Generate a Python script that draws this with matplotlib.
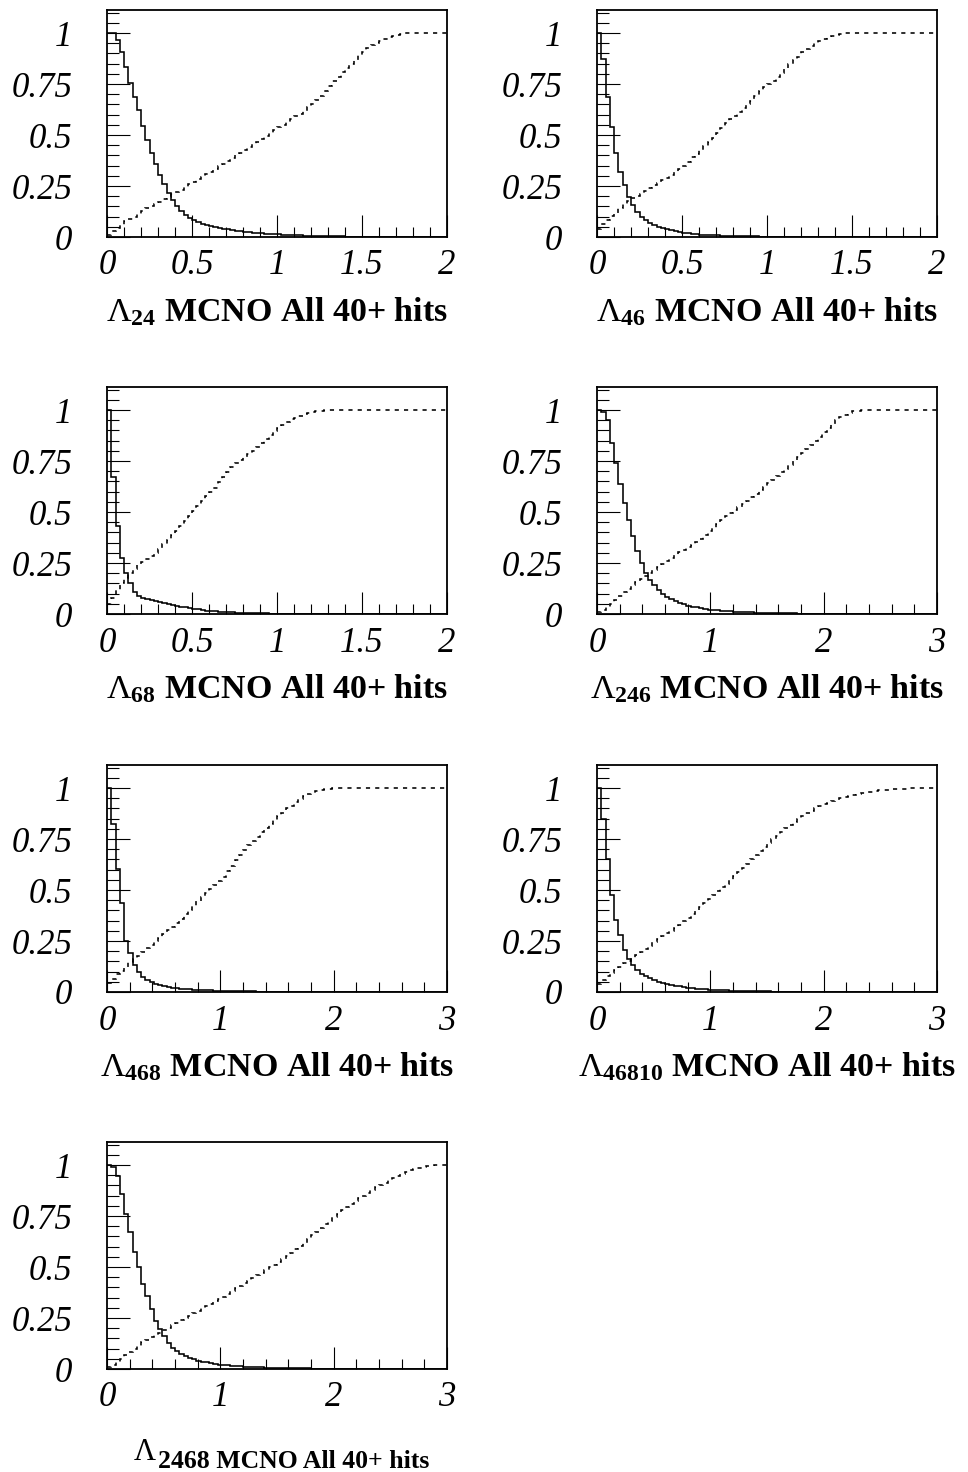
import numpy as np
import matplotlib
matplotlib.use('Agg')
import matplotlib.pyplot as plt
from matplotlib.ticker import MultipleLocator

plt.rcParams['font.family'] = ['Liberation Serif', 'DejaVu Serif']
plt.rcParams['mathtext.fontset'] = 'custom'
plt.rcParams['mathtext.rm'] = 'Liberation Serif'
plt.rcParams['mathtext.bf'] = 'Liberation Serif:bold'
plt.rcParams['mathtext.it'] = 'Liberation Serif:italic'

#----- histogram contents, 80 bins each -----
# solid: fraction above cut, dashed: cumulative fraction
surv_24 = [
    1.000, 1.000, 0.966, 0.908, 0.835, 0.756, 0.688, 0.623, 0.544, 0.475,
    0.410, 0.358, 0.304, 0.258, 0.214, 0.181, 0.152, 0.127, 0.108, 0.092,
    0.082, 0.073, 0.066, 0.060, 0.054, 0.049, 0.045, 0.041, 0.037, 0.034,
    0.031, 0.028, 0.026, 0.024, 0.022, 0.020, 0.018, 0.017, 0.016, 0.015,
    0.013, 0.012, 0.011, 0.010, 0.009, 0.008, 0.007, 0.006, 0.006, 0.005,
    0.005, 0.004, 0.004, 0.003, 0.003, 0.003, 0.002, 0.002, 0.002, 0.001,
    0.001, 0.001] + [0.0] * 18
cum_24 = [
    0.010, 0.030, 0.045, 0.060, 0.080, 0.090, 0.100, 0.115, 0.128, 0.140,
    0.150, 0.160, 0.172, 0.185, 0.197, 0.210, 0.222, 0.232, 0.245, 0.258,
    0.270, 0.282, 0.295, 0.308, 0.320, 0.333, 0.347, 0.360, 0.375, 0.388,
    0.400, 0.412, 0.425, 0.440, 0.455, 0.468, 0.480, 0.495, 0.510, 0.525,
    0.538, 0.550, 0.565, 0.580, 0.592, 0.605, 0.617, 0.635, 0.652, 0.670,
    0.690, 0.715, 0.740, 0.765, 0.785, 0.808, 0.830, 0.850, 0.870, 0.890,
    0.905, 0.925, 0.940, 0.952, 0.962, 0.972, 0.980, 0.987, 0.992, 0.996,
    0.998, 0.999] + [1.0] * 8

surv_46 = [
    1.000, 0.871, 0.688, 0.541, 0.410, 0.317, 0.255, 0.198, 0.157, 0.124,
    0.100, 0.083, 0.070, 0.059, 0.050, 0.043, 0.037, 0.032, 0.028, 0.024,
    0.021, 0.018, 0.016, 0.014, 0.012, 0.011, 0.010, 0.009, 0.008, 0.007,
    0.006, 0.005, 0.005, 0.004, 0.004, 0.003, 0.003, 0.003, 0.002, 0.002,
    0.002, 0.001, 0.001, 0.001, 0.001, 0.001, 0.001] + [0.0] * 33
cum_46 = [
    0.040, 0.065, 0.085, 0.105, 0.120, 0.140, 0.160, 0.175, 0.190, 0.200,
    0.212, 0.226, 0.240, 0.255, 0.267, 0.280, 0.290, 0.303, 0.318, 0.333,
    0.350, 0.368, 0.390, 0.408, 0.425, 0.445, 0.465, 0.487, 0.510, 0.535,
    0.560, 0.578, 0.595, 0.613, 0.632, 0.650, 0.668, 0.690, 0.715, 0.735,
    0.750, 0.765, 0.785, 0.805, 0.828, 0.850, 0.868, 0.885, 0.905, 0.920,
    0.935, 0.950, 0.962, 0.972, 0.980, 0.987, 0.992, 0.995, 0.998, 0.999] + [1.0] * 20

surv_68 = [
    1.000, 0.672, 0.430, 0.274, 0.200, 0.150, 0.110, 0.090, 0.080, 0.073,
    0.067, 0.062, 0.057, 0.052, 0.048, 0.044, 0.040, 0.036, 0.032, 0.029,
    0.026, 0.023, 0.020, 0.017, 0.015, 0.013, 0.011, 0.010, 0.009, 0.008,
    0.007, 0.006, 0.005, 0.005, 0.004, 0.004, 0.003, 0.003, 0.002, 0.002,
    0.002, 0.002, 0.001, 0.001, 0.001, 0.001, 0.001] + [0.0] * 33
cum_68 = [
    0.050, 0.080, 0.120, 0.150, 0.175, 0.200, 0.220, 0.240, 0.255, 0.270,
    0.285, 0.300, 0.320, 0.345, 0.365, 0.385, 0.405, 0.430, 0.455, 0.480,
    0.505, 0.530, 0.555, 0.578, 0.600, 0.620, 0.645, 0.670, 0.695, 0.720,
    0.740, 0.755, 0.770, 0.785, 0.800, 0.820, 0.840, 0.860, 0.880, 0.895,
    0.910, 0.925, 0.940, 0.955, 0.963, 0.972, 0.980, 0.986, 0.990, 0.994,
    0.997, 0.999] + [1.0] * 28

surv_246 = [
    1.000, 0.990, 0.952, 0.840, 0.742, 0.635, 0.545, 0.460, 0.380, 0.307,
    0.250, 0.200, 0.167, 0.143, 0.120, 0.100, 0.085, 0.072, 0.062, 0.054,
    0.047, 0.041, 0.036, 0.032, 0.028, 0.025, 0.022, 0.020, 0.018, 0.016,
    0.014, 0.013, 0.012, 0.011, 0.010, 0.009, 0.008, 0.007, 0.007, 0.006,
    0.005, 0.005, 0.004, 0.004, 0.003, 0.003, 0.003, 0.002, 0.002, 0.002,
    0.002, 0.001, 0.001, 0.001, 0.001, 0.001, 0.001, 0.001, 0.001] + [0.0] * 21
cum_246 = [
    0.010, 0.020, 0.035, 0.050, 0.070, 0.090, 0.110, 0.125, 0.140, 0.155,
    0.170, 0.185, 0.200, 0.215, 0.230, 0.245, 0.260, 0.275, 0.290, 0.302,
    0.315, 0.328, 0.340, 0.355, 0.370, 0.388, 0.405, 0.420, 0.440, 0.460,
    0.480, 0.497, 0.510, 0.525, 0.540, 0.555, 0.572, 0.590, 0.608, 0.625,
    0.640, 0.655, 0.675, 0.695, 0.712, 0.730, 0.750, 0.770, 0.790, 0.810,
    0.830, 0.850, 0.870, 0.890, 0.910, 0.930, 0.950, 0.965, 0.978, 0.987,
    0.993, 0.997, 0.999] + [1.0] * 17

surv_468 = [
    1.000, 0.823, 0.604, 0.437, 0.251, 0.190, 0.133, 0.100, 0.075, 0.059,
    0.048, 0.040, 0.034, 0.029, 0.025, 0.022, 0.019, 0.017, 0.015, 0.013,
    0.012, 0.011, 0.010, 0.009, 0.008, 0.007, 0.006, 0.006, 0.005, 0.005,
    0.004, 0.004, 0.003, 0.003, 0.003, 0.002, 0.002, 0.002, 0.002, 0.001,
    0.001, 0.001, 0.001, 0.001] + [0.0] * 36
cum_468 = [
    0.045, 0.065, 0.090, 0.105, 0.125, 0.145, 0.160, 0.175, 0.195, 0.215,
    0.232, 0.250, 0.265, 0.285, 0.302, 0.320, 0.340, 0.360, 0.380, 0.400,
    0.420, 0.445, 0.465, 0.485, 0.505, 0.525, 0.545, 0.565, 0.595, 0.620,
    0.645, 0.670, 0.695, 0.720, 0.740, 0.760, 0.785, 0.805, 0.825, 0.845,
    0.865, 0.880, 0.900, 0.913, 0.930, 0.945, 0.960, 0.970, 0.978, 0.985,
    0.990, 0.994, 0.997, 0.999] + [1.0] * 26

surv_46810 = [
    1.000, 0.847, 0.650, 0.478, 0.355, 0.280, 0.207, 0.161, 0.130, 0.110,
    0.090, 0.079, 0.067, 0.058, 0.050, 0.044, 0.039, 0.034, 0.030, 0.027,
    0.024, 0.021, 0.019, 0.017, 0.015, 0.013, 0.012, 0.011, 0.010, 0.009,
    0.008, 0.007, 0.006, 0.006, 0.005, 0.005, 0.004, 0.004, 0.003, 0.003,
    0.003, 0.002, 0.002, 0.002, 0.002, 0.001, 0.001, 0.001, 0.001, 0.001,
    0.001, 0.001] + [0.0] * 28
cum_46810 = [
    0.040, 0.060, 0.080, 0.095, 0.110, 0.125, 0.140, 0.152, 0.165, 0.180,
    0.195, 0.210, 0.225, 0.245, 0.260, 0.273, 0.287, 0.300, 0.315, 0.330,
    0.347, 0.363, 0.380, 0.398, 0.415, 0.435, 0.455, 0.475, 0.495, 0.513,
    0.530, 0.550, 0.570, 0.590, 0.610, 0.630, 0.650, 0.672, 0.690, 0.710,
    0.730, 0.748, 0.765, 0.785, 0.803, 0.820, 0.835, 0.850, 0.863, 0.876,
    0.888, 0.900, 0.910, 0.920, 0.928, 0.936, 0.943, 0.950, 0.956, 0.962,
    0.967, 0.972, 0.976, 0.980, 0.983, 0.986, 0.988, 0.990, 0.992, 0.994,
    0.995, 0.996, 0.997, 0.998, 0.999, 0.999] + [1.0] * 4

surv_2468 = [
    1.000, 0.990, 0.944, 0.858, 0.759, 0.670, 0.574, 0.500, 0.417, 0.360,
    0.294, 0.236, 0.195, 0.162, 0.129, 0.104, 0.087, 0.074, 0.063, 0.054,
    0.047, 0.041, 0.036, 0.032, 0.028, 0.025, 0.022, 0.020, 0.018, 0.016,
    0.014, 0.013, 0.012, 0.011, 0.010, 0.009, 0.008, 0.007, 0.007, 0.006,
    0.005, 0.005, 0.004, 0.004, 0.004, 0.003, 0.003, 0.003, 0.002, 0.002,
    0.002, 0.002, 0.002, 0.001, 0.001, 0.001, 0.001, 0.001, 0.001, 0.001,
    0.001, 0.001, 0.001, 0.001, 0.001, 0.001, 0.001, 0.001] + [0.0] * 12
cum_2468 = [
    0.010, 0.020, 0.035, 0.050, 0.070, 0.085, 0.100, 0.115, 0.130, 0.142,
    0.155, 0.167, 0.178, 0.190, 0.202, 0.214, 0.226, 0.238, 0.250, 0.262,
    0.274, 0.286, 0.297, 0.308, 0.320, 0.332, 0.344, 0.355, 0.366, 0.380,
    0.395, 0.408, 0.420, 0.433, 0.447, 0.460, 0.472, 0.485, 0.498, 0.511,
    0.525, 0.540, 0.555, 0.570, 0.587, 0.603, 0.620, 0.638, 0.656, 0.674,
    0.692, 0.710, 0.727, 0.745, 0.762, 0.779, 0.796, 0.810, 0.824, 0.837,
    0.850, 0.864, 0.877, 0.890, 0.902, 0.914, 0.926, 0.937, 0.947, 0.957,
    0.966, 0.974, 0.981, 0.986, 0.990, 0.993, 0.996, 0.998, 0.999, 1.000]

subscripts = ['24', '46', '68', '246', '468', '46810', '2468']
x_max = [2, 2, 2, 3, 3, 3, 3]
surv_all = [surv_24, surv_46, surv_68, surv_246, surv_468, surv_46810, surv_2468]
cum_all = [cum_24, cum_46, cum_68, cum_246, cum_468, cum_46810, cum_2468]
title_tail = 'MCNO All 40+ hits'

y_ticks = [0, 0.25, 0.5, 0.75, 1]
y_ticklabels = ['0', '0.25', '0.5', '0.75', '1']
x_ticks_2 = [0, 0.5, 1, 1.5, 2]
x_ticklabels_2 = ['0', '0.5', '1', '1.5', '2']
x_ticks_3 = [0, 1, 2, 3]
x_ticklabels_3 = ['0', '1', '2', '3']

#----- page layout in pixels -----
W, H = 968.0, 1472.0
col_left = [107, 597]
row_bottom = [237, 614, 992, 1369]
ax_w, ax_h = 340, 227
tick_fs = 25

fig = plt.figure(figsize=(W / 100, H / 100), dpi=100)

for k in range(len(subscripts)):
    r, c = divmod(k, 2)
    ax = fig.add_axes([col_left[c] / W, 1 - row_bottom[r] / H, ax_w / W, ax_h / H])
    xm = x_max[k]
    edges = np.linspace(0, xm, len(surv_all[k]) + 1)
    ax.stairs(surv_all[k], edges, baseline=None, color='black', lw=1.15)
    ax.stairs(cum_all[k], edges, baseline=None, color='black', lw=1.15,
              linestyle=(0, (2.6, 3.2)))
    ax.set_xlim(0, xm)
    ax.set_ylim(0, 1.113)

    if xm == 2:
        ax.set_xticks(x_ticks_2, x_ticklabels_2, fontstyle='italic', fontsize=tick_fs)
        ax.xaxis.set_minor_locator(MultipleLocator(0.1))
    else:
        ax.set_xticks(x_ticks_3, x_ticklabels_3, fontstyle='italic', fontsize=tick_fs)
        ax.xaxis.set_minor_locator(MultipleLocator(0.2))
    ax.set_yticks(y_ticks, y_ticklabels, fontstyle='italic', fontsize=tick_fs)
    ax.yaxis.set_minor_locator(MultipleLocator(0.05))

    ax.tick_params(which='both', direction='in', top=False, right=False,
                   width=0.8, color='black')
    ax.tick_params(axis='y', which='major', length=16.5, pad=25)
    ax.tick_params(axis='y', which='minor', length=8.5)
    ax.tick_params(axis='x', which='major', length=16, pad=9)
    ax.tick_params(axis='x', which='minor', length=7.5)
    for sp in ax.spines.values():
        sp.set_linewidth(1.3)

    sub = subscripts[k]
    if sub != '2468':
        ax.text(0.5, -84 / ax_h, r'$\Lambda_{\mathbf{%s}}$ %s' % (sub, title_tail),
                transform=ax.transAxes, ha='center', va='baseline',
                fontsize=24.5, fontweight='bold')
    else:
        # whole title set as a subscript on this one
        ax.text(26 / ax_w, -91 / ax_h, r'$\Lambda$', transform=ax.transAxes,
                ha='left', va='baseline', fontsize=22)
        ax.text(51 / ax_w, -99 / ax_h, '%s %s' % (sub, title_tail),
                transform=ax.transAxes, ha='left', va='baseline',
                fontsize=18.5, fontweight='bold')

fig.savefig('out.png', dpi=100)
